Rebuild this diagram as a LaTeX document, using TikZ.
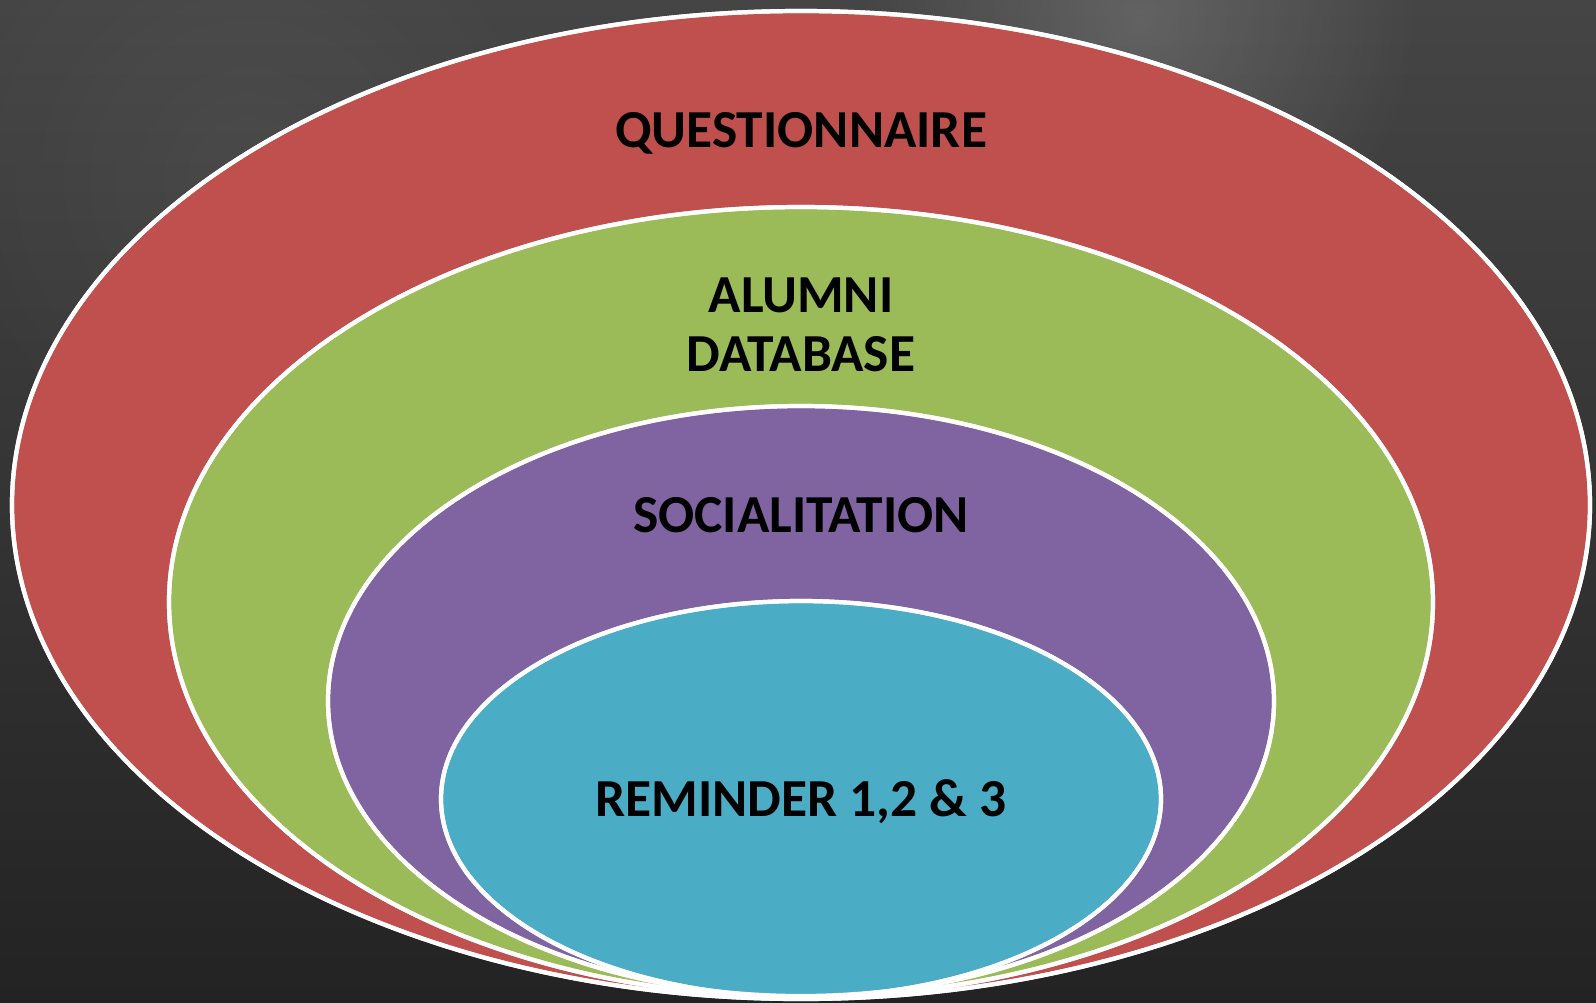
\documentclass[tikz,border=0pt]{standalone}
\usepackage{fontspec}
\setmainfont{Carlito}
\usepackage{tikz}
\usetikzlibrary{positioning, fadings}

\definecolor{qred}{HTML}{C0504D}
\definecolor{agreen}{HTML}{9BBB59}
\definecolor{spurple}{HTML}{8064A2}
\definecolor{rblue}{HTML}{4BACC6}
\definecolor{boardtop}{HTML}{454545}
\definecolor{boardbot}{HTML}{232323}

\tikzfading[name=glow, inner color=transparent!0, outer color=transparent!100]

\begin{document}
\begin{tikzpicture}[
      x=0.01cm, y=-0.01cm,
      ring/.style={draw=white, line width=1.2pt},
      lbl/.style={font=\fontsize{15.2}{16.8}\selectfont\bfseries, text=black, align=center, inner sep=0pt}
    ]
    \useasboundingbox (0,0) rectangle (1596,1002);
    \shade[top color=boardtop, bottom color=boardbot] (0,0) rectangle (1596,1002);
    \fill[white, opacity=0.16, path fading=glow] (1140,20) circle (280);
    \fill[white, opacity=0.05, path fading=glow] (250,180) circle (320);
    \fill[ring, fill=qred] (801,505) ellipse (789 and 494);
    \fill[ring, fill=agreen] (801,602) ellipse (632 and 395);
    \fill[ring, fill=spurple] (801,701) ellipse (473 and 295);
    \fill[ring, fill=rblue] (801,799) ellipse (360 and 198);
    \draw[ring] (801,505) ellipse (789 and 494);
    \draw[ring] (801,602) ellipse (632 and 395);
    \draw[ring] (801,701) ellipse (473 and 295);
    \draw[ring] (801,799) ellipse (360 and 198);
    \node[lbl, anchor=base] (quest) at (801,147) {QUESTIONNAIRE};
    \node[lbl, anchor=center] (alumni) at (801,325) {ALUMNI\\DATABASE};
    \node[lbl, anchor=base] (social) at (801,532) {SOCIALITATION};
    \node[lbl, anchor=base] (remind) at (801,816) {REMINDER 1,2 \& 3};
  \end{tikzpicture}
\end{document}
